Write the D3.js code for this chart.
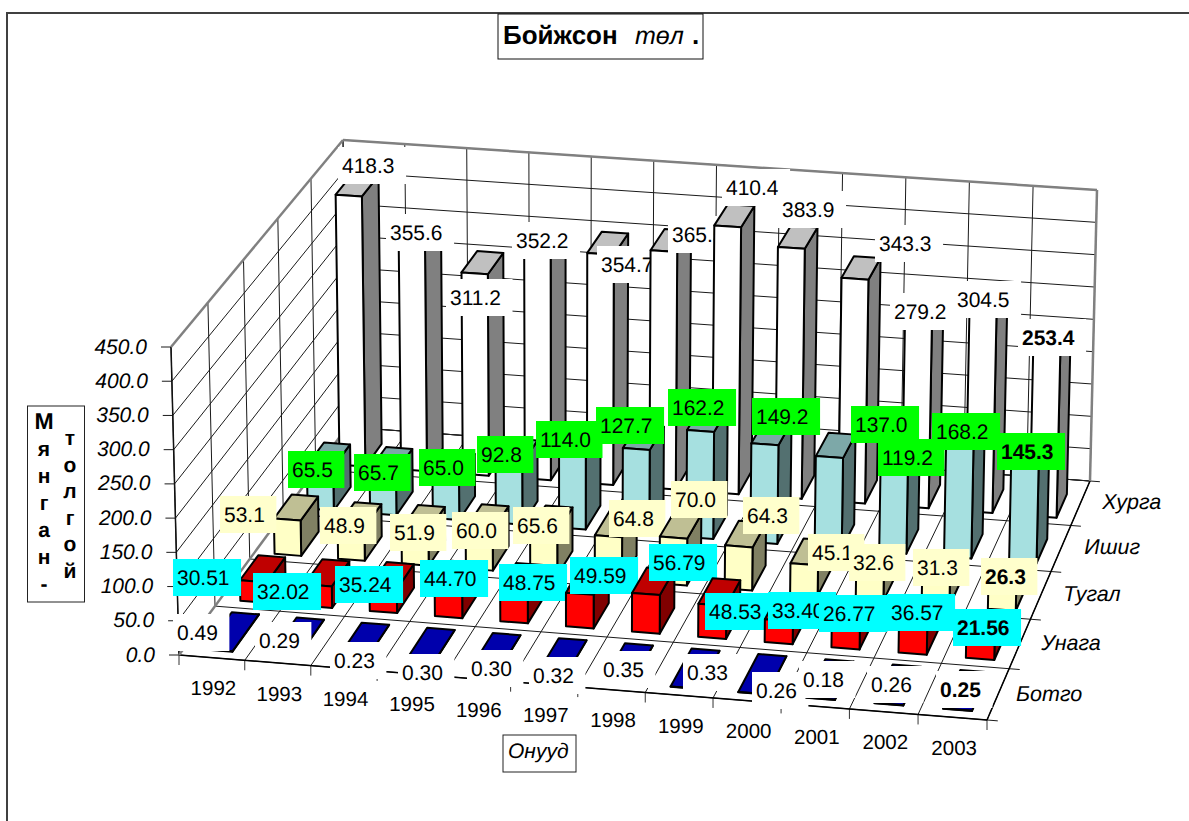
<!DOCTYPE html>
<html><head><meta charset="utf-8">
<style>html,body{margin:0;padding:0;background:#fff}svg{display:block}text{font-family:"Liberation Sans",Arial,sans-serif;fill:#000;text-rendering:geometricPrecision}</style>
<script src="https://cdn.jsdelivr.net/npm/d3@7"></script></head><body>
<svg id="c" width="1189" height="821"></svg>
<script>
// ---------- data ----------
const years = ["1992","1993","1994","1995","1996","1997","1998","1999","2000","2001","2002","2003"];
const seriesNames = ["Ботго","Унага","Тугал","Ишиг","Хурга"];
const botgo = [0.49,0.29,0.23,0.30,0.30,0.32,0.35,0.33,0.26,0.18,0.26,0.25];
const unaga = [30.51,32.02,35.24,44.70,48.75,49.59,56.79,48.53,33.40,26.77,36.57,21.56];
const tugal = [53.1,48.9,51.9,60.0,65.6,64.8,70.0,64.3,45.1,32.6,31.3,26.3];
const ishig = [65.5,65.7,65.0,92.8,114.0,127.7,162.2,149.2,137.0,119.2,168.2,145.3];
const hurga = [418.3,355.6,311.2,352.2,354.7,365.5,410.4,383.9,343.3,279.2,304.5,253.4];
const valueTicks = [0,50,100,150,200,250,300,350,400,450];

// ---------- layout: hand-placed data label boxes (left, top), as in the source chart ----------
const botgoLabelPos = [[173,614],[255,622],[330,642],[398,654],[467,650],[529,657],[599,651],[683,654],[752,672],[799,661],[867,666],[936,671]];
const unagaLabelPos = [[173,559],[253,573],[335,566],[420,560],[499,564],[570,557],[649,544],[705,593],[768,592],[819,595],[887,594],[953,609]];
const tugalLabelPos = [[220,496],[320,507],[390,514],[452,512],[513,507],[609,500],[671,481],[743,497],[808,534],[849,544],[913,549],[981,558]];
const ishigLabelPos = [[288,451],[354,454],[419,449],[477,436],[536,421],[596,407],[668,389],[752,398],[851,406],[878,439],[932,413],[997,433]];
const hurgaLabelPos = [[338,147],[386,214],[446,279],[512,222],[597,246],[668,216],[722,169],[778,191],[875,225],[890,293],[953,281],[1018,319]];

// ---------- styles ----------
const rows = [
  {vals:hurga, name:"Хурга", pos:hurgaLabelPos, fmt:d3.format(".1f"), front:"#FFFFFF", top:"#C0C0C0", side:"#808080", box:"#FFFFFF", growBack:0},
  {vals:ishig, name:"Ишиг",  pos:ishigLabelPos, fmt:d3.format(".1f"), front:"#A6E0E0", top:"#7DA8A8", side:"#537070", box:"#00FF00", growBack:0},
  {vals:tugal, name:"Тугал", pos:tugalLabelPos, fmt:d3.format(".1f"), front:"#FFFFC6", top:"#BFBF94", side:"#808063", box:"#FFFFCC", growBack:0},
  {vals:unaga, name:"Унага", pos:unagaLabelPos, fmt:d3.format(".2f"), front:"#FF0000", top:"#BF0000", side:"#800000", box:"#00FFFF", growBack:0},
  {vals:botgo, name:"Ботго", pos:botgoLabelPos, fmt:d3.format(".2f"), front:"#0000FF", top:"#0000AC", side:"#000080", box:"#FFFFFF", growBack:0.045}
];

// ---------- projection (box corners of the 3-D frame) ----------
function homography(p00,p10,p11,p01){
  const [x0,y0]=p00,[x1,y1]=p10,[x2,y2]=p11,[x3,y3]=p01;
  const dx1=x1-x2,dx2=x3-x2,sx=x0-x1+x2-x3,dy1=y1-y2,dy2=y3-y2,sy=y0-y1+y2-y3;
  const det=dx1*dy2-dx2*dy1, g=(sx*dy2-dx2*sy)/det, h=(dx1*sy-sx*dy1)/det;
  const a=x1-x0+g*x1,b=x3-x0+h*x3,d=y1-y0+g*y1,e=y3-y0+h*y3;
  return (u,v)=>{const w=g*u+h*v+1;return [(a*u+b*v+x0)/w,(d*u+e*v+y0)/w];};
}
const floorH = homography([179,655],[987,720],[1090,481],[347,427]);
const roofH  = homography([171,347],[993,406],[1097,190],[343,140]);
const P = (u,v,t)=>{const f=floorH(u,v),r=roofH(u,v);return [f[0]+(r[0]-f[0])*t,f[1]+(r[1]-f[1])*t];};

const uBand = d3.scaleBand().domain(years).range([0.002,1.002]).paddingInner(0.58).paddingOuter(0.29);
const vBand = d3.scaleBand().domain(seriesNames).range([-0.018,0.982]).paddingInner(0.47).paddingOuter(0.235);
const zScale = d3.scaleLinear().domain([0,450]).range([0,1]);
const uEdge = d3.scaleLinear().domain([0,years.length]).range([0,1]);
const vEdge = d3.scaleLinear().domain([0,seriesNames.length]).range([0,1]);

const svg = d3.select("#c");
const line = d3.line();
const poly = pts => line(pts)+"Z";

// ---------- outer chart border ----------
svg.append("path").attr("d","M7 830V13H1189").attr("fill","none").attr("stroke","#404040").attr("stroke-width",2);

// ---------- grid ----------
const grid = svg.append("g").attr("fill","none").attr("stroke","#1a1a1a").attr("stroke-width",1);
const seg = (a,b,c="#1a1a1a",w=1)=>grid.append("path").attr("d",line([a,b])).attr("stroke",c).attr("stroke-width",w);
d3.range(years.length+1).forEach(i=>{
  const u=uEdge(i);
  seg(P(u,0,0),P(u,1,0));            // floor
  seg(P(u,1,0),P(u,1,1));            // back wall
  const f=P(u,0,0); seg(f,[f[0],f[1]+10],"#333");  // front tick
});
d3.range(seriesNames.length+1).forEach(i=>{
  const v=vEdge(i);
  seg(P(0,v,0),P(1.013,v,0));        // floor + tick
  seg(P(0,v,0),P(0,v,1));            // left wall
});
valueTicks.forEach(t=>{
  const z=zScale(t);
  const a=P(0,0,z);
  seg([a[0]-10,a[1]],a);             // value tick
  seg(a,P(0,1,z));
  seg(P(0,1,z),P(1,1,z));
});
seg(P(0,0,0),P(1,0,0),"#000",1.5);
seg(P(1,0,0),P(1,1,0),"#000",1.5);
seg(P(0,0,0),P(0,0,1),"#111",1.5);
seg(P(0,0,0),P(0,1,0),"#808080",2.5);
seg(P(0,1,0),P(1,1,0),"#222",1);
seg(P(0,0,1),P(0,1,1),"#808080",2.5);
seg(P(0,1,1),P(1,1,1),"#808080",2.5);
seg(P(1,1,1),P(1,1,0),"#808080",2.5);

// ---------- axis labels ----------
const fmtTick = d3.format(".1f");
svg.append("g").selectAll("text").data(valueTicks).join("text")
  .attr("x",d=>P(0,0,zScale(d))[0]-24).attr("y",d=>P(0,0,zScale(d))[1]+6.5)
  .attr("text-anchor","end").attr("font-size",21).attr("font-style","italic").text(fmtTick);
svg.append("g").selectAll("text").data(years).join("text")
  .attr("x",d=>P(uBand(d)+uBand.bandwidth()/2,0,0)[0])
  .attr("y",d=>P(uBand(d)+uBand.bandwidth()/2,0,0)[1]+37.5)
  .attr("text-anchor","middle").attr("font-size",20.5).text(d=>d);
svg.append("g").selectAll("text").data(seriesNames).join("text")
  .attr("x",d=>P(1,vBand(d)+vBand.bandwidth()/2,0)[0]+53)
  .attr("y",d=>P(1,vBand(d)+vBand.bandwidth()/2,0)[1]+2)
  .attr("text-anchor","middle").attr("font-size",21.5).attr("font-style","italic").text(d=>d);

// ---------- bars + labels, painted back to front, left to right ----------
const marks = svg.append("g");
rows.forEach(r=>{
  const v0=vBand(r.name), v1=vBand(r.name)+vBand.bandwidth()+r.growBack;
  years.forEach((y,i)=>{
    const u0=uBand(y), u1=u0+uBand.bandwidth(), t=zScale(r.vals[i]);
    const g=marks.append("g").attr("stroke","#000").attr("stroke-width",2).attr("stroke-linejoin","round");
    g.append("path").attr("fill",r.side).attr("d",poly([P(u1,v0,0),P(u1,v1,0),P(u1,v1,t),P(u1,v0,t)]));
    g.append("path").attr("fill",r.top).attr("d",poly([P(u0,v0,t),P(u1,v0,t),P(u1,v1,t),P(u0,v1,t)]));
    g.append("path").attr("fill",r.front).attr("d",poly([P(u0,v0,0),P(u1,v0,0),P(u1,v0,t),P(u0,v0,t)]));
    const [lx,ly]=r.pos[i], last=i===years.length-1;
    const rect=marks.append("rect").attr("x",lx).attr("y",ly).attr("height",37).attr("fill",r.box);
    const tx=marks.append("text").attr("x",lx+4).attr("y",ly+25.5).attr("font-size",21)
      .attr("font-weight",last?"bold":"normal").text(r.fmt(r.vals[i]));
    rect.attr("width",tx.node().getComputedTextLength()+15.5);
  });
});

// ---------- titles ----------
const tb=svg.append("g");
tb.append("rect").attr("x",498).attr("y",14).attr("width",205).attr("height",45).attr("fill","#fff").attr("stroke","#111").attr("stroke-width",1);
tb.append("text").attr("x",503).attr("y",44).attr("font-size",26).attr("font-weight","bold").text("Бойжсон");
tb.append("text").attr("x",635).attr("y",44).attr("font-size",25).attr("font-style","italic").text("төл");
tb.append("text").attr("x",692).attr("y",44).attr("font-size",26).attr("font-weight","bold").text(".");
const ox=svg.append("g");
ox.append("rect").attr("x",503).attr("y",735).attr("width",73).attr("height",37).attr("fill","#fff").attr("stroke","#222");
ox.append("text").attr("x",508).attr("y",758).attr("font-size",21).attr("font-style","italic").text("Онууд");
const yt=svg.append("g");
yt.append("rect").attr("x",27.5).attr("y",406).attr("width",57).attr("height",196).attr("fill","#fff").attr("stroke","#222");
const col1=[...("Мянган-")], col2=[...("толгой")];
const y1s=d3.scalePoint().domain(d3.range(col1.length)).range([429,591]);
const y2s=d3.scalePoint().domain(d3.range(col2.length)).range([445,578]);
col1.forEach((c,i)=>yt.append("text").attr("x",44).attr("y",y1s(i)).attr("text-anchor","middle").attr("font-weight","bold").attr("font-size",i?21:23).text(c));
col2.forEach((c,i)=>yt.append("text").attr("x",70).attr("y",y2s(i)).attr("text-anchor","middle").attr("font-weight","bold").attr("font-size",21).text(c));
</script></body></html>
